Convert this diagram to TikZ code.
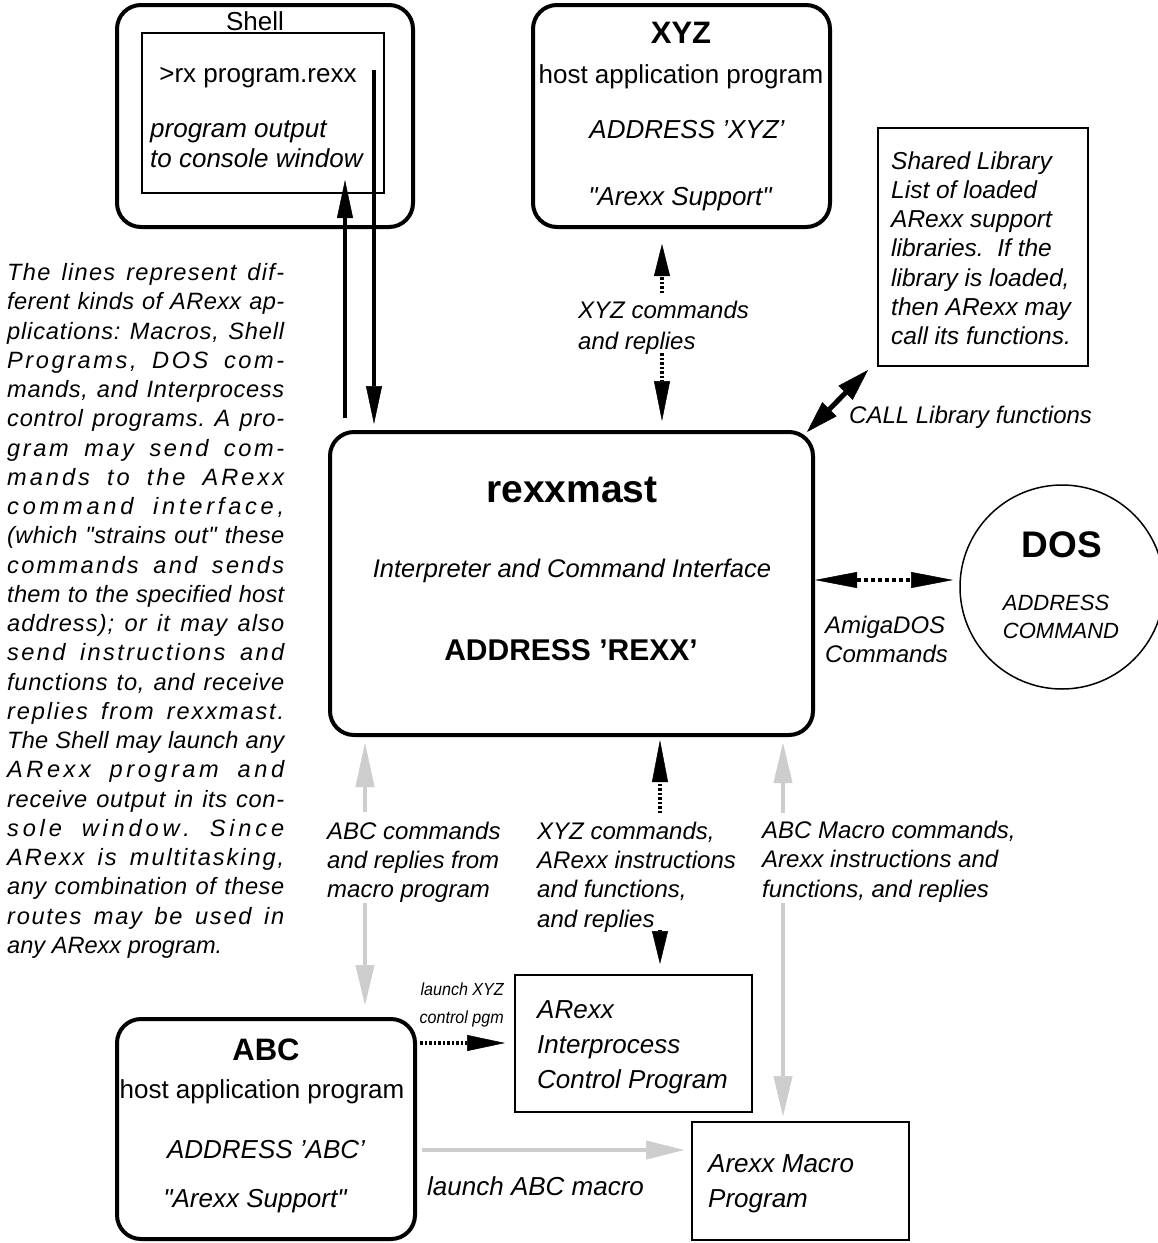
\documentclass[tikz,border=0pt]{standalone}
\usepackage{fontspec}
\setmainfont{Liberation Sans}[Ligatures=TeXOff]
\usetikzlibrary{arrows.meta}
\definecolor{arrgray}{RGB}{205,205,205}
\ExplSyntaxOn
\NewDocumentCommand\spreadline{m}
 {
  \str_set:Nx \l_tmpa_str {#1}
  \makebox[277pt][s]
   {
    \str_map_inline:Nn \l_tmpa_str
     {
      \str_if_eq:nnTF {##1} {~}
       { \hskip .278em plus 3pt }
       { ##1 \hskip 0pt plus 1.2pt }
     }
    \unskip
   }
 }
\ExplSyntaxOff
\tikzset{
 hostbox/.style={draw, line width=4pt, rounded corners=24pt, inner sep=0pt},
 thinbox/.style={draw, line width=1.5pt, inner sep=0pt},
 txt/.style={inner sep=0pt, anchor=base},
 lft/.style={inner sep=0pt, anchor=base west},
 s26/.style={font=\fontsize{26}{31}\selectfont},
 i26/.style={font=\itshape\fontsize{26}{31}\selectfont},
 i24/.style={font=\itshape\fontsize{24}{29}\selectfont},
 para/.style={inner sep=0pt, anchor=base west, font=\itshape\fontsize{23.6}{29}\selectfont},
 blk/.style={line width=4pt, draw=black},
 gry/.style={line width=4.5pt, draw=arrgray},
 dots/.style={dash pattern=on 2.5pt off 2pt},
 hd/.style={-{Triangle[length=#1,width=16pt,line width=0.5pt]}},
 hdg/.style={-{Triangle[length=#1,width=19pt,line width=0.5pt]}},
 hdd/.style={{Triangle[length=#1,width=16pt,line width=0.5pt]}-{Triangle[length=#1,width=16pt,line width=0.5pt]}},
 hddc/.style={{Triangle[length=#1,width=20pt,line width=0.5pt]}-{Triangle[length=#1,width=20pt,line width=0.5pt]}},
}
\begin{document}
\begin{tikzpicture}[x=1pt,y=-1pt]
\fill[white] (0,0) rectangle (1158,1243);
\useasboundingbox (0,0) rectangle (1158,1243);

% ---------- boxes ----------
\node[hostbox, minimum width=296pt, minimum height=222pt] (shell) at (265,116) {};
\node[thinbox, minimum width=242pt, minimum height=160pt] (shellin) at (263,113) {};
\node[hostbox, minimum width=297pt, minimum height=222pt] (xyz) at (681.5,116) {};
\node[thinbox, minimum width=210pt, minimum height=238pt] (lib) at (983,247) {};
\node[hostbox, minimum width=483pt, minimum height=303pt] (rexx) at (571.5,583.5) {};
\node[draw, circle, line width=1.5pt, minimum size=204pt, inner sep=0pt] (dos) at (1062,587) {};
\node[thinbox, minimum width=237pt, minimum height=137pt] (ipc) at (633.5,1043.5) {};
\node[hostbox, minimum width=298pt, minimum height=220pt] (abc) at (266,1129) {};
\node[thinbox, minimum width=217pt, minimum height=118pt] (macro) at (800.5,1181) {};

% ---------- shell texts ----------
\node[txt, s26] (shellT) at (255,30) {Shell};
\node[txt, s26] (rx) at (258,82) {>rx program.rexx};
\node[lft, i26] (po1) at (150,137) {program output};
\node[lft, i26] (po2) at (150,167) {to console window};

% ---------- XYZ ----------
\node[txt, font=\bfseries\fontsize{31}{36}\selectfont] (xyzT) at (681,43) {XYZ};
\node[txt, s26] (xyzH) at (681,83) {host application program};
\node[txt, i26] (xyzA) at (687,138) {ADDRESS ’XYZ’};
\node[txt, i26] (xyzS) at (680,205) {"Arexx Support"};

% ---------- library ----------
\foreach \ln [count=\i from 0] in {{Shared Library},{List of loaded},{ARexx support},{libraries.\ \ If the},{library is loaded,},{then ARexx may},{call its functions.}}
  \node[lft, font=\itshape\fontsize{24.5}{29}\selectfont] (lib\i) at (891,{169+29.3*\i}) {\ln};

% ---------- rexxmast ----------
\node[txt, font=\bfseries\fontsize{39}{44}\selectfont] (rexxT) at (572,502) {rexxmast};
\node[txt, font=\itshape\fontsize{25.5}{30}\selectfont] (rexxI) at (572,577) {Interpreter and Command Interface};
\node[txt, font=\bfseries\fontsize{30}{35}\selectfont] (rexxA) at (571,660) {ADDRESS ’REXX’};

% ---------- DOS ----------
\node[txt, font=\bfseries\fontsize{37}{42}\selectfont] (dosT) at (1062,557) {DOS};
\node[txt, font=\itshape\fontsize{22}{27}\selectfont] (dosA) at (1056,610) {ADDRESS};
\node[txt, font=\itshape\fontsize{22}{27}\selectfont] (dosC) at (1061,638) {COMMAND};

% ---------- ABC ----------
\node[txt, font=\bfseries\fontsize{31}{36}\selectfont] (abcT) at (266,1060) {ABC};
\node[txt, s26] (abcH) at (262,1098) {host application program};
\node[txt, i26] (abcA) at (266,1158) {ADDRESS ’ABC’};
\node[txt, i26] (abcS) at (255,1207) {"Arexx Support"};

% ---------- IPC and macro ----------
\node[lft, i26] (ipc1) at (537,1018) {ARexx};
\node[lft, i26] (ipc2) at (537,1053) {Interprocess};
\node[lft, i26] (ipc3) at (537,1088) {Control Program};
\node[lft, i26] (mac1) at (708,1172) {Arexx Macro};
\node[lft, i26] (mac2) at (708,1207) {Program};

% ---------- labels ----------
\node[lft, i24] (xl1) at (578,318) {XYZ commands};
\node[lft, i24] (xl2) at (578,349) {and replies};
\node[lft, i24] (call) at (849,423) {CALL Library functions};
\node[lft, i24] (am1) at (825,633) {AmigaDOS};
\node[lft, i24] (am2) at (825,662) {Commands};
\node[lft, i24] (al1) at (327,839) {ABC commands};
\node[lft, i24] (al2) at (327,868) {and replies from};
\node[lft, i24] (al3) at (327,897) {macro program};
\node[lft, i24] (bl1) at (537,839) {XYZ commands,};
\node[lft, i24] (bl2) at (537,868) {ARexx instructions};
\node[lft, i24] (bl3) at (537,897) {and functions,};
\node[lft, i24] (bl4) at (537,927) {and replies};
\node[lft, i24] (cl1) at (762,838) {ABC Macro commands,};
\node[lft, i24] (cl2) at (762,867) {Arexx instructions and};
\node[lft, i24] (cl3) at (762,897) {functions, and replies};
\node[inner sep=0pt, anchor=base east, font=\itshape\fontsize{17.5}{28}\selectfont] (lx1) at (504,995) {\scalebox{0.92}[1]{launch XYZ}};
\node[inner sep=0pt, anchor=base east, font=\itshape\fontsize{17.5}{28}\selectfont] (lx2) at (504,1023) {\scalebox{0.92}[1]{control pgm}};
\node[lft, i26] (lm) at (427,1195) {launch ABC macro};

% ---------- left paragraph ----------
\foreach \ln [count=\i from 0] in {
 {The lines represent dif-},
 {ferent kinds of ARexx ap-},
 {plications: Macros, Shell},
 {Programs, DOS com-},
 {mands, and Interprocess},
 {control programs.  A pro-},
 {gram may send com-},
 {mands to the ARexx},
 {command interface,},
 {(which "strains out" these},
 {commands and sends},
 {them to the specified host},
 {address); or it may also},
 {send instructions and},
 {functions to, and receive},
 {replies from rexxmast.},
 {The Shell may launch any},
 {ARexx program and},
 {receive output in its con-},
 {sole window.  Since},
 {ARexx is multitasking,},
 {any combination of these},
 {routes may be used in}}
  \node[para] (p\i) at (7,{280.5+29.26*\i}) {\spreadline{\ln}};
\node[para] (p23) at (7,953.5) {any ARexx program.};

% ---------- connectors ----------
% shell <-> rexxmast
\coordinate (su0) at (345,418); \coordinate (su1) at (345,180);
\draw[blk, hd=38pt] (su0) -- (su1);
\coordinate (sd0) at (374,70); \coordinate (sd1) at (374,424);
\draw[blk, hd=38pt] (sd0) -- (sd1);
% XYZ <-> rexxmast
\coordinate (x0) at (662,293); \coordinate (x1) at (662,244);
\draw[blk, dots, hd=32pt] (x0) -- (x1);
\coordinate (x2) at (662,353); \coordinate (x3) at (662,421);
\draw[blk, dots, hd=40pt] (x2) -- (x3);
% CALL library
\coordinate (cl0) at (807,432); \coordinate (cl1) at (868,370);
\draw[line width=5pt, hddc=32pt] (cl0) -- (cl1);
% DOS
\coordinate (d0) at (815,580); \coordinate (d1) at (953,580);
\draw[blk, dots, dash pattern=on 4pt off 3pt, hdd=42pt] (d0) -- (d1);
% rexxmast <-> IPC
\coordinate (b0) at (660,813); \coordinate (b1) at (660,740);
\draw[blk, dots, hd=42pt] (b0) -- (b1);
\coordinate (b2) at (660,930); \coordinate (b3) at (660,964);
\draw[blk, hd=33pt] (b2) -- (b3);
% ABC <-> rexxmast (gray)
\coordinate (g0) at (365,812); \coordinate (g1) at (365,743);
\draw[gry, hdg=44pt] (g0) -- (g1);
\coordinate (g2) at (365,903); \coordinate (g3) at (365,1005);
\draw[gry, hdg=40pt] (g2) -- (g3);
% macro <-> rexxmast (gray)
\coordinate (r0) at (783,813); \coordinate (r1) at (783,743);
\draw[gry, hdg=40pt] (r0) -- (r1);
\coordinate (r2) at (783,903); \coordinate (r3) at (783,1116);
\draw[gry, hdg=40pt] (r2) -- (r3);
% launch XYZ control pgm
\coordinate (l0) at (420,1043); \coordinate (l1) at (505,1043);
\draw[blk, dots, hd=38pt] (l0) -- (l1);
% launch ABC macro
\coordinate (m0) at (422,1150); \coordinate (m1) at (684,1150);
\draw[gry, hdg=38pt] (m0) -- (m1);
\end{tikzpicture}
\end{document}
